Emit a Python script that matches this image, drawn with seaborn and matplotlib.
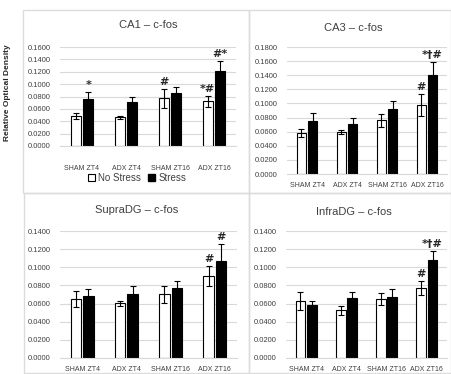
import matplotlib
matplotlib.use("Agg")
import matplotlib.pyplot as plt
from matplotlib.patches import Rectangle, Patch
import seaborn as sns
import pandas as pd

groups = ["SHAM ZT4", "ADX ZT4", "SHAM ZT16", "ADX ZT16"]
conditions = ["No Stress", "Stress"]

ca1_ns = [0.0486, 0.0465, 0.0768, 0.0724]
ca1_ns_err = [0.0044, 0.0025, 0.0152, 0.0086]
ca1_s = [0.0762, 0.0719, 0.0849, 0.1220]
ca1_s_err = [0.0108, 0.0081, 0.0101, 0.0150]

ca3_ns = [0.0581, 0.0595, 0.0760, 0.0973]
ca3_ns_err = [0.0052, 0.0035, 0.0090, 0.0157]
ca3_s = [0.0756, 0.0704, 0.0926, 0.1410]
ca3_s_err = [0.0104, 0.0086, 0.0114, 0.0180]

supra_ns = [0.0654, 0.0603, 0.0702, 0.0903]
supra_ns_err = [0.0088, 0.0029, 0.0091, 0.0109]
supra_s = [0.0680, 0.0709, 0.0768, 0.1067]
supra_s_err = [0.0084, 0.0084, 0.0084, 0.0190]

infra_ns = [0.0625, 0.0526, 0.0647, 0.0768]
infra_ns_err = [0.0099, 0.0051, 0.0066, 0.0077]
infra_s = [0.0581, 0.0662, 0.0673, 0.1080]
infra_s_err = [0.0051, 0.0062, 0.0091, 0.0103]

# annotations: (group index, condition index, text)
ca1_marks = [(0, 1, "*"), (2, 0, "#"), (3, 0, "*#"), (3, 1, "#*")]
ca3_marks = [(3, 0, "#"), (3, 1, "*\u2020#")]
supra_marks = [(3, 0, "#"), (3, 1, "#")]
infra_marks = [(3, 0, "#"), (3, 1, "*\u2020#")]

titles = ["CA1 \u2013 c-fos", "CA3 \u2013 c-fos", "SupraDG \u2013 c-fos", "InfraDG \u2013 c-fos"]
ymaxes = [0.16, 0.18, 0.14, 0.14]

sns.set_style("white")
plt.rcParams["font.family"] = ["Liberation Sans", "DejaVu Sans"]

W, H = 452, 374
fig = plt.figure(figsize=(W / 100, H / 100), dpi=100)

def frac_rect(l, t, r, b):
    return [l / W, 1 - b / H, (r - l) / W, (b - t) / H]

# panel boxes
for (l, t, r, b) in [(23, 10, 249, 193), (249, 10, 451, 193), (24, 193, 249, 373), (249, 193, 451, 373)]:
    fig.patches.append(Rectangle((l / W, 1 - b / H), (r - l) / W, (b - t) / H,
                                 transform=fig.transFigure, fill=False,
                                 edgecolor="#dcdcdc", linewidth=1.0, zorder=0))

axes_px = [(60, 47, 236, 146), (287, 47, 447, 174), (60, 231, 237, 358), (286, 231, 447, 358)]
title_px = [(148, 25), (353, 28), (137, 210), (354, 212)]
xpads = [14, 6, 6, 6]
panels = [
    (ca1_ns, ca1_ns_err, ca1_s, ca1_s_err, ca1_marks),
    (ca3_ns, ca3_ns_err, ca3_s, ca3_s_err, ca3_marks),
    (supra_ns, supra_ns_err, supra_s, supra_s_err, supra_marks),
    (infra_ns, infra_ns_err, infra_s, infra_s_err, infra_marks),
]

for i, (ns, ns_err, s, s_err, marks) in enumerate(panels):
    ax = fig.add_axes(frac_rect(*axes_px[i]))
    df = pd.DataFrame({
        "group": groups * 2,
        "condition": [conditions[0]] * 4 + [conditions[1]] * 4,
        "value": ns + s,
    })
    sns.barplot(data=df, x="group", y="value", hue="condition", order=groups,
                hue_order=conditions, palette={"No Stress": "white", "Stress": "black"},
                edgecolor="black", linewidth=0.8, width=0.56, gap=0.15,
                errorbar=None, legend=False, ax=ax)
    bar_sets = [list(ax.containers[0]), list(ax.containers[1])]
    means = [ns, s]
    errs = [ns_err, s_err]
    tops = []
    for k in range(2):
        xs = [b.get_x() + b.get_width() / 2 for b in bar_sets[k]]
        ax.errorbar(xs, means[k], yerr=errs[k], fmt="none", ecolor="black",
                    elinewidth=0.8, capsize=2.5, capthick=0.8, zorder=5)
        tops.append([(x, m + e) for x, m, e in zip(xs, means[k], errs[k])])
    for (g, c, txt) in marks:
        x, y = tops[c][g]
        ax.annotate(txt, (x, y), xytext=(0, 1.5), textcoords="offset points",
                    ha="center", va="bottom", fontsize=8, fontweight="bold",
                    family=["DejaVu Sans"])
    ax.set_ylim(0, ymaxes[i])
    ax.set_xlim(-0.5, 3.5)
    n = int(round(ymaxes[i] / 0.02))
    ax.set_yticks([0.02 * j for j in range(n + 1)])
    ax.set_yticklabels([f"{0.02 * j:.4f}" for j in range(n + 1)], fontsize=5.5, color="#404040")
    ax.set_xticks(range(4))
    ax.set_xticklabels(groups, fontsize=5, color="#404040")
    ax.tick_params(axis="y", length=0, pad=7)
    ax.tick_params(axis="x", length=0, pad=xpads[i])
    ax.set_xlabel("")
    ax.set_ylabel("")
    ax.yaxis.grid(True, color="#d9d9d9", linewidth=0.8)
    ax.set_axisbelow(True)
    for sp in ["left", "top", "right"]:
        ax.spines[sp].set_visible(False)
    ax.spines["bottom"].set_color("#d9d9d9")
    ax.patch.set_alpha(0)
    tx, ty = title_px[i]
    fig.text(tx / W, 1 - ty / H, titles[i], ha="center", va="center", fontsize=8, color="#404040")

fig.text(8 / W, 1 - 93 / H, "Relative Optical Density", rotation=90, ha="center",
         va="center", fontsize=6, fontweight="bold", color="#262626")

handles = [Patch(facecolor="white", edgecolor="black", linewidth=0.8, label="No Stress"),
           Patch(facecolor="black", edgecolor="black", label="Stress")]
fig.legend(handles=handles, loc="center", bbox_to_anchor=(137 / W, 1 - 178 / H), ncol=2,
           frameon=False, fontsize=7, handlelength=0.7, handleheight=0.7,
           handletextpad=0.3, columnspacing=0.8, labelcolor="#404040")

fig.savefig("out.png", dpi=100)
